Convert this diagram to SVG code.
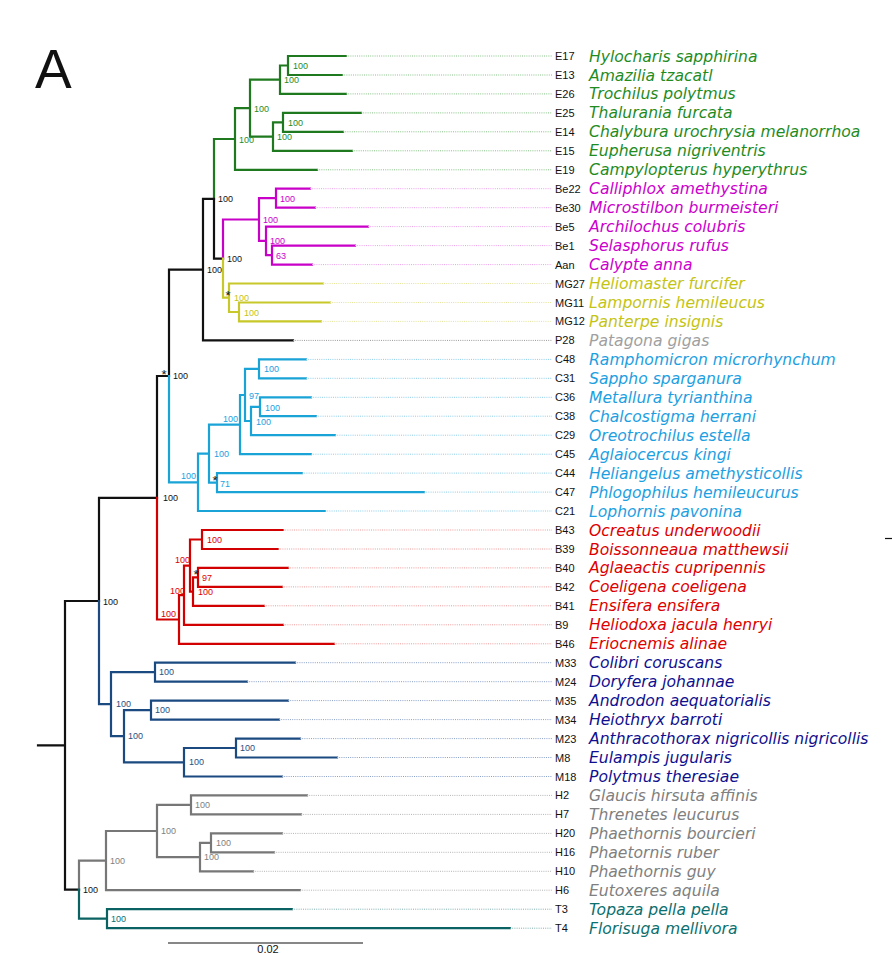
<svg xmlns="http://www.w3.org/2000/svg" width="892" height="953" viewBox="0 0 892 953">
<style>
.br{fill:none;stroke-width:2.2;stroke-linecap:square;stroke-linejoin:miter}
.dot{fill:none;stroke-width:1;stroke-dasharray:1 1.2}
.code{font-family:"Liberation Sans",Arial,sans-serif;font-size:11px;fill:#111}
.sp{font-family:"DejaVu Sans",Verdana,sans-serif;font-style:italic;font-size:15.6px}
.sup{font-family:"Liberation Sans",Arial,sans-serif;font-size:9px}
.ast{font-family:"Liberation Sans",Arial,sans-serif;font-size:13px;fill:#111;text-anchor:middle}
.g{stroke:#1f7a1f}.gt{fill:#1f8c1f}.gd{stroke:#86c386}
.k{stroke:#111}.kt{fill:#111}
.m{stroke:#c800c8}.mt{fill:#cc00cc}.md{stroke:#eea0ee}
.y{stroke:#c8c82a}.yt{fill:#c4c414}.yd{stroke:#e4e49a}
.pt{fill:#a0a0a0}.pd{stroke:#999}
.c{stroke:#1aa3d6}.ct{fill:#1da0e2}.cd{stroke:#8ccdea}
.r{stroke:#d20000}.rt{fill:#dd0000}.rd{stroke:#f09a9a}
.n{stroke:#1a4a80}.nt{fill:#10108f}.nsup{fill:#2a5080}.nd{stroke:#8aa0c8}
.h{stroke:#777}.ht{fill:#808080}.hd{stroke:#b4b4b4}
.t{stroke:#0a6262}.tt{fill:#0b7070}.td{stroke:#80b0b0}
</style>
<text x="35" y="88" font-family="Liberation Sans,Arial,sans-serif" font-size="55" fill="#111">A</text>
<g id="connectors">
<path class="br g" d="M288,65.5V56H346M288,65.5V75H342M280,79.7V65.5H288M280,79.7V93.9H346M283,122.4V112.9H361M283,122.4V131.8H343M273,136.6V122.4H283M273,136.6V150.8H352M250,108.2V79.7H280M250,108.2V136.6H273M235,139V108.2H250M235,139V169.8H317M214,198.8V139H235"/>
<path class="br k" d="M214,198.8V258.6H223M203,269.6V198.8H214M203,269.6V340.4H293M169,376V269.6H203M157,497.8V376H169M99,601V497.8H157M65,745.3V601H99M65,745.3V889.7H79M38,745.3H65"/>
<path class="br m" d="M276,198.2V188.7H310M276,198.2V207.7H315M272,255.1V245.6H355M272,255.1V264.6H312M266,240.9V226.6H368M266,240.9V255.1H272M259,219.5V198.2H276M259,219.5V240.9H266M223,258.6V219.5H259"/>
<path class="br y" d="M239,312V302.5H330M239,312V321.4H321M229,297.7V283.5H323M229,297.7V312H239M223,258.6V297.7H229"/>
<path class="br c" d="M259,368.9V359.4H306M259,368.9V378.3H306M260,406.8V397.3H311M260,406.8V416.2H316M251,421V406.8H260M251,421V435.2H335M245,395V368.9H259M245,395V421H251M240,424.6V395H245M240,424.6V454.2H311M217,482.6V473.1H302M217,482.6V492.1H424M209,453.6V424.6H240M209,453.6V482.6H217M198,482.3V453.6H209M198,482.3V511H325M169,376V482.3H198"/>
<path class="br r" d="M202,539.5V530H283M202,539.5V549H278M198,577.4V567.9H288M198,577.4V586.9H282M193,591.6V577.4H198M193,591.6V605.8H264M190,565.6V539.5H202M190,565.6V591.6H193M184,595.2V565.6H190M184,595.2V624.8H283M179,619.5V595.2H184M179,619.5V643.8H334M157,497.8V619.5H179"/>
<path class="br n" d="M155,672.2V662.7H295M155,672.2V681.7H247M151,710.1V700.6H288M151,710.1V719.6H279M236,748V738.6H300M236,748V757.5H337M184,762.3V748H236M184,762.3V776.5H282M124,736.2V710.1H151M124,736.2V762.3H184M111,704.2V672.2H155M111,704.2V736.2H124M99,601V704.2H111"/>
<path class="br h" d="M191,804.9V795.4H307M191,804.9V814.4H301M211,842.9V833.4H282M211,842.9V852.3H274M200,857.1V842.9H211M200,857.1V871.3H253M157,831V804.9H191M157,831V857.1H200M106,860.6V831H157M106,860.6V890.2H300M79,889.7V860.6H106"/>
<path class="br t" d="M107,918.7V909.2H292M107,918.7V928.2H510M79,889.7V918.7H107"/>
<path class="dot gd" d="M346,56H552M342,75H552M346,93.9H552M361,112.9H552M343,131.8H552M352,150.8H552M317,169.8H552"/>
<path class="dot md" d="M310,188.7H552M315,207.7H552M368,226.6H552M355,245.6H552M312,264.6H552"/>
<path class="dot yd" d="M323,283.5H552M330,302.5H552M321,321.4H552"/>
<path class="dot pd" d="M293,340.4H552"/>
<path class="dot cd" d="M306,359.4H552M306,378.3H552M311,397.3H552M316,416.2H552M335,435.2H552M311,454.2H552M302,473.1H552M424,492.1H552M325,511H552"/>
<path class="dot rd" d="M283,530H552M278,549H552M288,567.9H552M282,586.9H552M264,605.8H552M283,624.8H552M334,643.8H552"/>
<path class="dot nd" d="M295,662.7H552M247,681.7H552M288,700.6H552M279,719.6H552M300,738.6H552M337,757.5H552M282,776.5H552"/>
<path class="dot hd" d="M307,795.4H552M301,814.4H552M282,833.4H552M274,852.3H552M253,871.3H552M300,890.2H552"/>
<path class="dot td" d="M292,909.2H552M510,928.2H552"/>
</g>
<g id="supports" class="sup">
<text x="293" y="69" class="gt">100</text>
<text x="284" y="83" class="gt">100</text>
<text x="288" y="126" class="gt">100</text>
<text x="277" y="140" class="gt">100</text>
<text x="254" y="112" class="gt">100</text>
<text x="239" y="143" class="gt">100</text>
<text x="218" y="202" class="kt">100</text>
<text x="227" y="262" class="kt">100</text>
<text x="207" y="273" class="kt">100</text>
<text x="173" y="379" class="kt">100</text>
<text x="163" y="501" class="kt">100</text>
<text x="103" y="605" class="kt">100</text>
<text x="83" y="893" class="kt">100</text>
<text x="280" y="202" class="mt">100</text>
<text x="263" y="223" class="mt">100</text>
<text x="270" y="244" class="mt">100</text>
<text x="276" y="259" class="mt">63</text>
<text x="234" y="301" class="yt">100</text>
<text x="244" y="316" class="yt">100</text>
<text x="264" y="372" class="ct">100</text>
<text x="265" y="411" class="ct">100</text>
<text x="249" y="399" class="ct">97</text>
<text x="256" y="425" class="ct">100</text>
<text x="223" y="422" class="ct">100</text>
<text x="214" y="457" class="ct">100</text>
<text x="220" y="487" class="ct">71</text>
<text x="181" y="479" class="ct">100</text>
<text x="207" y="543" class="rt">100</text>
<text x="202" y="581" class="rt">97</text>
<text x="198" y="595" class="rt">100</text>
<text x="175" y="563" class="rt">100</text>
<text x="170" y="594" class="rt">100</text>
<text x="161" y="617" class="rt">100</text>
<text x="159" y="675" class="nsup">100</text>
<text x="155" y="713" class="nsup">100</text>
<text x="240" y="751" class="nsup">100</text>
<text x="189" y="765" class="nsup">100</text>
<text x="128" y="739" class="nsup">100</text>
<text x="116" y="707" class="nsup">100</text>
<text x="195" y="808" class="ht">100</text>
<text x="216" y="846" class="ht">100</text>
<text x="204" y="860" class="ht">100</text>
<text x="161" y="834" class="ht">100</text>
<text x="110" y="864" class="ht">100</text>
<text x="111" y="922" class="tt">100</text>
<text x="164" y="379" class="ast">*</text>
<text x="228" y="300" class="ast">*</text>
<text x="215" y="485" class="ast">*</text>
<text x="196" y="579" class="ast">*</text>
</g>
<g id="E17"><text class="code" x="555" y="60">E17</text><text class="sp gt" x="589" y="61.5">Hylocharis sapphirina</text></g>
<g id="E13"><text class="code" x="555" y="79">E13</text><text class="sp gt" x="589" y="80.5">Amazilia tzacatl</text></g>
<g id="E26"><text class="code" x="555" y="97.9">E26</text><text class="sp gt" x="589" y="99.4">Trochilus polytmus</text></g>
<g id="E25"><text class="code" x="555" y="116.9">E25</text><text class="sp gt" x="589" y="118.4">Thalurania furcata</text></g>
<g id="E14"><text class="code" x="555" y="135.8">E14</text><text class="sp gt" x="589" y="137.3">Chalybura urochrysia melanorrhoa</text></g>
<g id="E15"><text class="code" x="555" y="154.8">E15</text><text class="sp gt" x="589" y="156.3">Eupherusa nigriventris</text></g>
<g id="E19"><text class="code" x="555" y="173.8">E19</text><text class="sp gt" x="589" y="175.3">Campylopterus hyperythrus</text></g>
<g id="Be22"><text class="code" x="555" y="192.7">Be22</text><text class="sp mt" x="589" y="194.2">Calliphlox amethystina</text></g>
<g id="Be30"><text class="code" x="555" y="211.7">Be30</text><text class="sp mt" x="589" y="213.2">Microstilbon burmeisteri</text></g>
<g id="Be5"><text class="code" x="555" y="230.6">Be5</text><text class="sp mt" x="589" y="232.1">Archilochus colubris</text></g>
<g id="Be1"><text class="code" x="555" y="249.6">Be1</text><text class="sp mt" x="589" y="251.1">Selasphorus rufus</text></g>
<g id="Aan"><text class="code" x="555" y="268.6">Aan</text><text class="sp mt" x="589" y="270.1">Calypte anna</text></g>
<g id="MG27"><text class="code" x="555" y="287.5">MG27</text><text class="sp yt" x="589" y="289">Heliomaster furcifer</text></g>
<g id="MG11"><text class="code" x="555" y="306.5">MG11</text><text class="sp yt" x="589" y="308">Lampornis hemileucus</text></g>
<g id="MG12"><text class="code" x="555" y="325.4">MG12</text><text class="sp yt" x="589" y="326.9">Panterpe insignis</text></g>
<g id="P28"><text class="code" x="555" y="344.4">P28</text><text class="sp pt" x="589" y="345.9">Patagona gigas</text></g>
<g id="C48"><text class="code" x="555" y="363.4">C48</text><text class="sp ct" x="589" y="364.9">Ramphomicron microrhynchum</text></g>
<g id="C31"><text class="code" x="555" y="382.3">C31</text><text class="sp ct" x="589" y="383.8">Sappho sparganura</text></g>
<g id="C36"><text class="code" x="555" y="401.3">C36</text><text class="sp ct" x="589" y="402.8">Metallura tyrianthina</text></g>
<g id="C38"><text class="code" x="555" y="420.2">C38</text><text class="sp ct" x="589" y="421.7">Chalcostigma herrani</text></g>
<g id="C29"><text class="code" x="555" y="439.2">C29</text><text class="sp ct" x="589" y="440.7">Oreotrochilus estella</text></g>
<g id="C45"><text class="code" x="555" y="458.2">C45</text><text class="sp ct" x="589" y="459.7">Aglaiocercus kingi</text></g>
<g id="C44"><text class="code" x="555" y="477.1">C44</text><text class="sp ct" x="589" y="478.6">Heliangelus amethysticollis</text></g>
<g id="C47"><text class="code" x="555" y="496.1">C47</text><text class="sp ct" x="589" y="497.6">Phlogophilus hemileucurus</text></g>
<g id="C21"><text class="code" x="555" y="515">C21</text><text class="sp ct" x="589" y="516.5">Lophornis pavonina</text></g>
<g id="B43"><text class="code" x="555" y="534">B43</text><text class="sp rt" x="589" y="535.5">Ocreatus underwoodii</text></g>
<g id="B39"><text class="code" x="555" y="553">B39</text><text class="sp rt" x="589" y="554.5">Boissonneaua matthewsii</text></g>
<g id="B40"><text class="code" x="555" y="571.9">B40</text><text class="sp rt" x="589" y="573.4">Aglaeactis cupripennis</text></g>
<g id="B42"><text class="code" x="555" y="590.9">B42</text><text class="sp rt" x="589" y="592.4">Coeligena coeligena</text></g>
<g id="B41"><text class="code" x="555" y="609.8">B41</text><text class="sp rt" x="589" y="611.3">Ensifera ensifera</text></g>
<g id="B9"><text class="code" x="555" y="628.8">B9</text><text class="sp rt" x="589" y="630.3">Heliodoxa jacula henryi</text></g>
<g id="B46"><text class="code" x="555" y="647.8">B46</text><text class="sp rt" x="589" y="649.3">Eriocnemis alinae</text></g>
<g id="M33"><text class="code" x="555" y="666.7">M33</text><text class="sp nt" x="589" y="668.2">Colibri coruscans</text></g>
<g id="M24"><text class="code" x="555" y="685.7">M24</text><text class="sp nt" x="589" y="687.2">Doryfera johannae</text></g>
<g id="M35"><text class="code" x="555" y="704.6">M35</text><text class="sp nt" x="589" y="706.1">Androdon aequatorialis</text></g>
<g id="M34"><text class="code" x="555" y="723.6">M34</text><text class="sp nt" x="589" y="725.1">Heiothryx barroti</text></g>
<g id="M23"><text class="code" x="555" y="742.6">M23</text><text class="sp nt" x="589" y="744.1">Anthracothorax nigricollis nigricollis</text></g>
<g id="M8"><text class="code" x="555" y="761.5">M8</text><text class="sp nt" x="589" y="763">Eulampis jugularis</text></g>
<g id="M18"><text class="code" x="555" y="780.5">M18</text><text class="sp nt" x="589" y="782">Polytmus theresiae</text></g>
<g id="H2"><text class="code" x="555" y="799.4">H2</text><text class="sp ht" x="589" y="800.9">Glaucis hirsuta affinis</text></g>
<g id="H7"><text class="code" x="555" y="818.4">H7</text><text class="sp ht" x="589" y="819.9">Threnetes leucurus</text></g>
<g id="H20"><text class="code" x="555" y="837.4">H20</text><text class="sp ht" x="589" y="838.9">Phaethornis bourcieri</text></g>
<g id="H16"><text class="code" x="555" y="856.3">H16</text><text class="sp ht" x="589" y="857.8">Phaetornis ruber</text></g>
<g id="H10"><text class="code" x="555" y="875.3">H10</text><text class="sp ht" x="589" y="876.8">Phaethornis guy</text></g>
<g id="H6"><text class="code" x="555" y="894.2">H6</text><text class="sp ht" x="589" y="895.7">Eutoxeres aquila</text></g>
<g id="T3"><text class="code" x="555" y="913.2">T3</text><text class="sp tt" x="589" y="914.7">Topaza pella pella</text></g>
<g id="T4"><text class="code" x="555" y="932.2">T4</text><text class="sp tt" x="589" y="933.7">Florisuga mellivora</text></g>
<g id="scale">
<line x1="168" y1="943" x2="363" y2="943" stroke="#111" stroke-width="1.2"/>
<text x="268" y="952.5" font-family="Liberation Sans,Arial,sans-serif" font-size="11" fill="#111" text-anchor="middle">0.02</text>
</g>
<line x1="885" y1="538.5" x2="892" y2="538.5" stroke="#111" stroke-width="1.2"/>
</svg>
